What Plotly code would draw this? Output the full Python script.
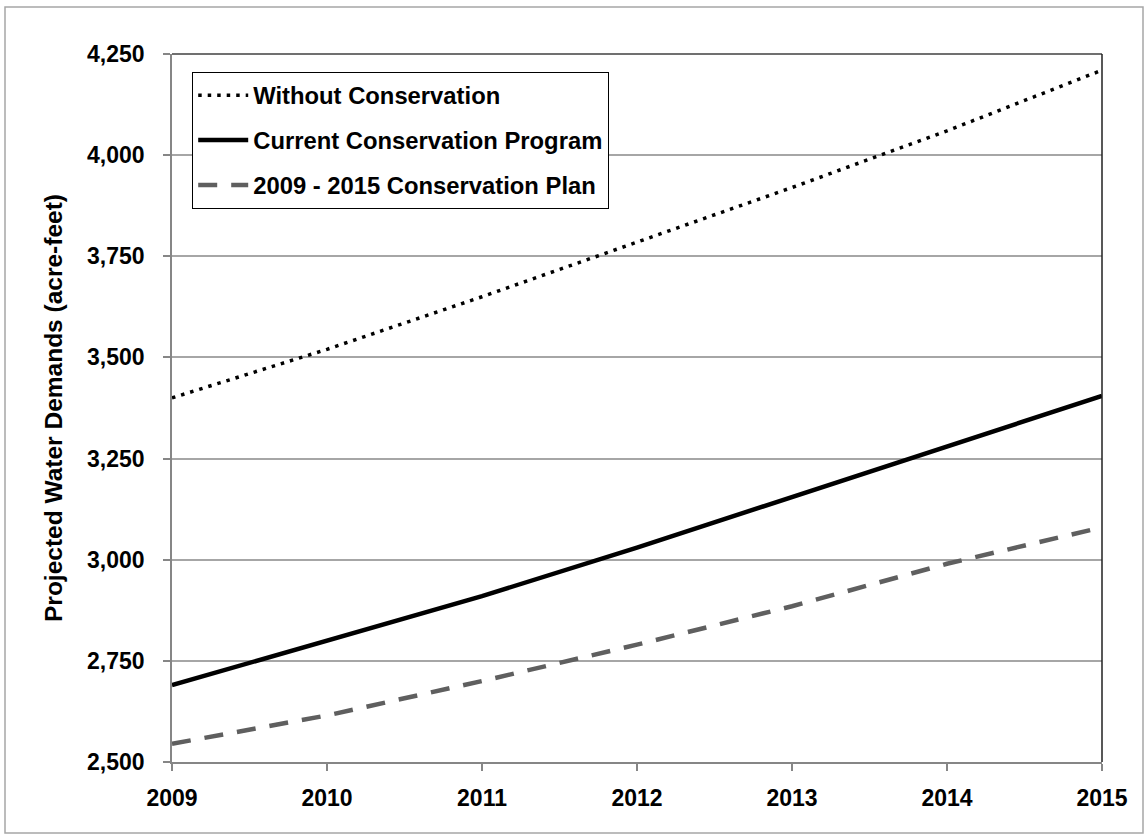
import plotly.graph_objects as go

years = [2009, 2010, 2011, 2012, 2013, 2014, 2015]
without_cons = [3400, 3520, 3650, 3785, 3920, 4060, 4210]
current_prog = [2690, 2800, 2910, 3030, 3155, 3280, 3405]
plan_2009_2015 = [2545, 2615, 2700, 2790, 2885, 2990, 3080]

series_names = ["Without Conservation", "Current Conservation Program", "2009 - 2015 Conservation Plan"]

y_ticks = [2500, 2750, 3000, 3250, 3500, 3750, 4000, 4250]

FONT = "Liberation Sans, Arial, sans-serif"

fig = go.Figure()
fig.add_trace(go.Scatter(x=years, y=without_cons, name=series_names[0], mode="lines",
                         line=dict(color="#000000", width=3.5, dash="3.5px,6px"),
                         legendgroup="a"))
fig.add_trace(go.Scatter(x=years, y=current_prog, name=series_names[1], mode="lines",
                         line=dict(color="#000000", width=4.5),
                         legendgroup="b"))
fig.add_trace(go.Scatter(x=years, y=plan_2009_2015, name=series_names[2], mode="lines",
                         line=dict(color="#5f5f5f", width=4.5, dash="19px,14px"),
                         legendgroup="c"))

L, R, T, B = 172, 46, 54, 76
W, H = 1148, 838
pw, ph = W - L - R, H - T - B

def px_x(px):
    return (px - L) / pw

def px_y(py):
    return (H - B - py) / ph

shapes = [
    # outer chart border
    dict(type="rect", xref="paper", yref="paper",
         x0=px_x(5), x1=px_x(1143), y0=px_y(833), y1=px_y(7),
         line=dict(color="#a6a6a6", width=1.5), layer="below"),
    # plot area top and right edges
    dict(type="line", xref="paper", yref="paper", x0=0, x1=1, y0=1, y1=1,
         line=dict(color="#404040", width=1.5)),
    dict(type="line", xref="paper", yref="paper", x0=1, x1=1, y0=0, y1=1,
         line=dict(color="#202020", width=1.5)),
]

fig.update_layout(
    width=W, height=H,
    margin=dict(l=L, r=R, t=T, b=B, pad=0),
    paper_bgcolor="white", plot_bgcolor="white",
    font=dict(family=FONT, size=23, color="#000000"),
    showlegend=True,
    legend=dict(x=px_x(192), y=px_y(72), xanchor="left", yanchor="top",
                bgcolor="white", bordercolor="#000000", borderwidth=1.2,
                font=dict(family=FONT, size=23.8, color="#000000", weight="bold"),
                itemwidth=50, tracegroupgap=11, traceorder="grouped"),
    shapes=shapes,
)

fig.update_xaxes(range=[2009, 2015], tickmode="array", tickvals=years,
                 ticktext=[str(y) for y in years],
                 showgrid=False, showline=True, linecolor="#868686", linewidth=1.5,
                 ticks="outside", ticklen=7, tickcolor="#868686", tickwidth=1.5,
                 tickfont=dict(family=FONT, size=23, color="#000000", weight="bold"),
                 ticklabelstandoff=8, zeroline=False, fixedrange=True)
fig.update_yaxes(range=[2500, 4250], tickmode="array", tickvals=y_ticks,
                 ticktext=[f"{v:,}" for v in y_ticks],
                 showgrid=True, gridcolor="#a6a6a6", gridwidth=1.5,
                 showline=True, linecolor="#868686", linewidth=1.5,
                 ticks="outside", ticklen=7, tickcolor="#868686", tickwidth=1.5,
                 tickfont=dict(family=FONT, size=23, color="#000000", weight="bold"),
                 ticklabelstandoff=14, zeroline=False, fixedrange=True,
                 title=dict(text="Projected Water Demands (acre-feet)",
                            font=dict(family=FONT, size=24.5, color="#000000", weight="bold"),
                            standoff=18))

fig.write_html("out.html")
